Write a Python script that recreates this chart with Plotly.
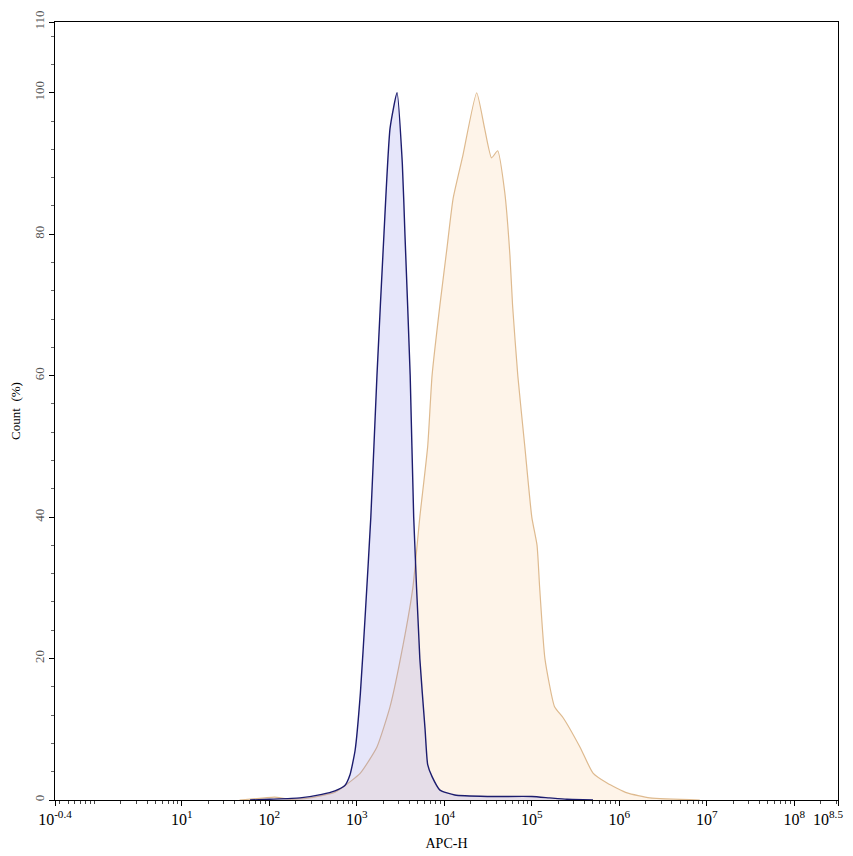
import math
import plotly.graph_objects as go

# Control sample (navy): log10(APC-H) positions and Count (%)
control_log = [1.78, 2.0, 2.35, 2.6, 2.75, 2.86, 2.92, 2.98, 3.04, 3.10, 3.16, 3.23, 3.31, 3.38,
               3.46, 3.52, 3.55, 3.61, 3.65, 3.72, 3.78, 3.81, 3.86, 3.95, 4.12, 4.5, 5.0, 5.2, 5.4, 5.7]
control_pct = [0, 0.1, 0.3, 0.8, 1.3, 2.0, 3.5, 7, 15, 27, 40, 60, 80, 95,
               100, 90, 80, 60, 40, 20, 10, 5, 3.3, 1.4, 0.7, 0.5, 0.5, 0.3, 0.1, 0]

# Stained sample (orange)
stained_log = [1.66, 1.95, 2.06, 2.24, 2.46, 2.73, 2.84, 3.04, 3.23, 3.38, 3.53, 3.64, 3.72, 3.81,
               3.86, 3.95, 4.03, 4.10, 4.21, 4.37, 4.46, 4.54, 4.61, 4.69, 4.75, 4.78, 4.84, 4.92,
               5.00, 5.06, 5.09, 5.15, 5.26, 5.36, 5.55, 5.70, 5.86, 6.09, 6.35, 6.92]
stained_pct = [0, 0.3, 0.4, 0.1, 0.3, 1.0, 1.8, 3.8, 7.5, 13.2, 22, 30, 40, 50,
               60, 70, 78, 85, 91, 100, 95, 90.8, 91.8, 86, 77, 70, 60, 50,
               40, 36, 30, 20, 13.2, 11.6, 7.5, 3.8, 2.4, 1.0, 0.3, 0]

x_tick_exp = [-0.45, 1, 2, 3, 4, 5, 6, 7, 8, 8.5]
x_tick_text = ["10<sup>-0.4</sup>", "10<sup>1</sup>", "10<sup>2</sup>", "10<sup>3</sup>",
               "10<sup>4</sup>", "10<sup>5</sup>", "10<sup>6</sup>", "10<sup>7</sup>",
               "10<sup>8</sup>", "10<sup>8.5</sup>\u00a0\u00a0\u00a0\u00a0\u00a0"]
y_tick_vals = [0, 20, 40, 60, 80, 100, 110]

FONT = "Liberation Serif, Times New Roman, serif"

fig = go.Figure()
fig.add_trace(go.Scatter(
    x=[10 ** v for v in stained_log], y=stained_pct, mode="lines",
    line=dict(color="#deba8f", width=1.2, shape="spline", smoothing=0.5),
    fill="tozeroy", fillcolor="rgba(253,240,225,0.75)", showlegend=False))
fig.add_trace(go.Scatter(
    x=[10 ** v for v in control_log], y=control_pct, mode="lines",
    line=dict(color="#1c1c6e", width=1.4, shape="spline", smoothing=0.5),
    fill="tozeroy", fillcolor="rgba(130,130,230,0.2)", showlegend=False))

minor_x = []
for d in range(-1, 9):
    for m in range(1, 10):
        v = d + math.log10(m)
        if -0.45 < v < 8.5 and v not in x_tick_exp:
            minor_x.append(10 ** v)

fig.update_layout(
    width=845, height=848,
    margin=dict(l=47, r=15, t=14, b=56),
    paper_bgcolor="white", plot_bgcolor="white",
    font=dict(family=FONT, size=14, color="black"),
    xaxis=dict(
        type="log", range=[-0.45, 8.5], automargin=False,
        tickvals=[10 ** v for v in x_tick_exp], ticktext=x_tick_text,
        ticklabeloverflow="allow",
        ticks="outside", ticklen=5, tickcolor="black", tickwidth=1,
        showline=True, linecolor="black", linewidth=1, mirror=True,
        showgrid=False, zeroline=False,
        minor=dict(tickvals=minor_x, ticks="outside", ticklen=3, tickcolor="#444"),
        tickfont=dict(family=FONT, size=16, color="black"),
        title=dict(text="APC-H", font=dict(family=FONT, size=14, color="black"), standoff=10),
    ),
    yaxis=dict(
        range=[0, 110], automargin=False,
        tickvals=y_tick_vals, ticktext=[str(v) for v in y_tick_vals],
        ticklabeloverflow="allow",
        ticks="outside", ticklen=5, tickcolor="black",
        tickangle=-90,
        showline=True, linecolor="black", linewidth=1, mirror=True,
        showgrid=False, zeroline=False,
        minor=dict(dtick=4, tick0=0, ticks="outside", ticklen=3, tickcolor="#666"),
        tickfont=dict(family=FONT, size=13, color="#555"),
        title=dict(text="Count  (%)", font=dict(family=FONT, size=13, color="black"), standoff=11),
    ),
)

fig.write_html("out.html")
